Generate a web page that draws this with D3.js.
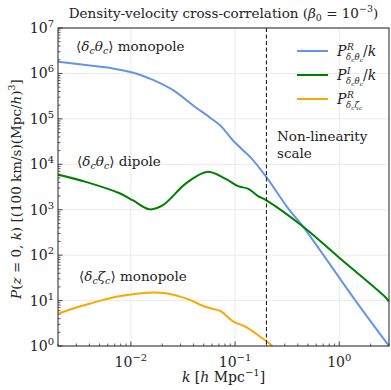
<!DOCTYPE html>
<html>
<head>
<meta charset="utf-8">
<script src="https://cdn.jsdelivr.net/npm/d3@7"></script>
<style>
  body { margin: 0; background: #fff; }
</style>
</head>
<body>
<div id="chart"></div>
<script>
// ---------------------------------------------------------------------------
// Data

const kMono = [0.0019, 0.0037, 0.0067, 0.0112, 0.0163, 0.0254, 0.0394, 0.0591, 0.0738, 0.092, 0.115, 0.1436, 0.2, 0.323, 0.451, 1.43, 3.0];
const pMono = [1.84e6, 1.53e6, 1.29e6, 1.0e6, 7.2e5, 4.3e5, 2.0e5, 1.02e5, 6.8e4, 3.7e4, 2.2e4, 1.35e4, 5.2e3, 1.07e3, 4.2e2, 10, 1.0];

const kDip = [0.0019, 0.0037, 0.0078, 0.0105, 0.0151, 0.0203, 0.0338, 0.0538, 0.0796, 0.107, 0.133, 0.166, 0.2, 0.451, 0.98, 2.76, 3.0];
const pDip = [6.1e3, 4.1e3, 2.3e3, 1.6e3, 1.02e3, 1.26e3, 3.8e3, 6.8e3, 4.9e3, 3.3e3, 2.9e3, 2.0e3, 1.6e3, 4.2e2, 91, 12, 9.5];

const kZeta = [0.0019, 0.0028, 0.0043, 0.0067, 0.0104, 0.0163, 0.0217, 0.0338, 0.0526, 0.0718, 0.0957, 0.128, 0.174, 0.222, 0.24];
const pZeta = [4.9, 6.7, 8.9, 11.7, 13.8, 15.1, 14.5, 11.2, 7.2, 5.9, 3.5, 2.6, 1.6, 1.05, 0.8];

const kNonLinear = 0.2;
const xDomain = [0.002, 3];
const yDomain = [1, 1e7];
const xTickExp = [-2, -1, 0];
const yTickExp = [0, 1, 2, 3, 4, 5, 6, 7];

// ---------------------------------------------------------------------------
// Layout

const width = 391, height = 390;
const margin = {top: 28, right: 2, bottom: 44, left: 58};
const innerW = width - margin.left - margin.right;
const innerH = height - margin.top - margin.bottom;
const FONT = "'DejaVu Serif', 'Liberation Serif', serif";

const svg = d3.select('#chart').append('svg')
  .attr('width', width)
  .attr('height', height)
  .attr('font-family', FONT)
  .style('font-family', FONT);

const x = d3.scaleLog().domain(xDomain).range([0, innerW]);
const y = d3.scaleLog().domain(yDomain).range([innerH, 0]);

const g = svg.append('g')
  .attr('transform', `translate(${margin.left},${margin.top})`);

g.append('clipPath').attr('id', 'clip')
  .append('rect').attr('width', innerW).attr('height', innerH);

// grid
g.append('g').selectAll('line')
  .data(xTickExp.map(e => Math.pow(10, e)))
  .join('line')
  .attr('x1', d => x(d)).attr('x2', d => x(d))
  .attr('y1', 0).attr('y2', innerH)
  .attr('stroke', '#ebebeb').attr('stroke-width', 1);

g.append('g').selectAll('line')
  .data(yTickExp.map(e => Math.pow(10, e)))
  .join('line')
  .attr('y1', d => y(d)).attr('y2', d => y(d))
  .attr('x1', 0).attr('x2', innerW)
  .attr('stroke', '#ebebeb').attr('stroke-width', 1);

// minor + major ticks (pointing in)
const xMinor = [];
for (let e = -3; e <= 0; e++) {
  for (let m = 2; m <= 9; m++) {
    const v = m * Math.pow(10, e);
    if (v >= xDomain[0] && v <= xDomain[1]) xMinor.push(v);
  }
}
const yMinor = [];
for (let e = 0; e < 7; e++) {
  for (let m = 2; m <= 9; m++) yMinor.push(m * Math.pow(10, e));
}

g.append('g').selectAll('line')
  .data(xMinor).join('line')
  .attr('x1', d => x(d)).attr('x2', d => x(d))
  .attr('y1', innerH).attr('y2', innerH - 2.5)
  .attr('stroke', '#333').attr('stroke-width', 0.8);
g.append('g').selectAll('line')
  .data(xTickExp.map(e => Math.pow(10, e))).join('line')
  .attr('x1', d => x(d)).attr('x2', d => x(d))
  .attr('y1', innerH).attr('y2', innerH - 4.5)
  .attr('stroke', '#333').attr('stroke-width', 0.9);

g.append('g').selectAll('line')
  .data(yMinor).join('line')
  .attr('y1', d => y(d)).attr('y2', d => y(d))
  .attr('x1', 0).attr('x2', 2.5)
  .attr('stroke', '#333').attr('stroke-width', 0.8);
g.append('g').selectAll('line')
  .data(yTickExp.map(e => Math.pow(10, e))).join('line')
  .attr('y1', d => y(d)).attr('y2', d => y(d))
  .attr('x1', 0).attr('x2', 4.5)
  .attr('stroke', '#333').attr('stroke-width', 0.9);

// tick labels
function powLabel(sel, exp, xx, yy, anchor) {
  const t = sel.append('text')
    .attr('x', xx).attr('y', yy)
    .attr('text-anchor', anchor)
    .attr('fill', '#222')
    .style('font-size', '14px');
  t.append('tspan').text('10');
  t.append('tspan')
    .attr('dy', -6)
    .style('font-size', '10px')
    .text(exp < 0 ? '\u2212' + (-exp) : String(exp));
  return t;
}

xTickExp.forEach(e => powLabel(g, e, x(Math.pow(10, e)), innerH + 21, 'middle'));
yTickExp.forEach(e => powLabel(g, e, -4, y(Math.pow(10, e)) + 5, 'end'));

// curves
const line = d3.line()
  .x(d => x(d[0]))
  .y(d => y(d[1]))
  .curve(d3.curveCatmullRom.alpha(0.5));

const plot = g.append('g').attr('clip-path', 'url(#clip)');

const series = [
  {k: kMono, p: pMono, color: '#6495ED'},
  {k: kDip, p: pDip, color: '#008000'},
  {k: kZeta, p: pZeta, color: '#FFA500'}
];

series.forEach(s => {
  plot.append('path')
    .datum(d3.zip(s.k, s.p))
    .attr('d', line)
    .attr('fill', 'none')
    .attr('stroke', s.color)
    .attr('stroke-width', 2);
});

// non-linearity scale
plot.append('line')
  .attr('x1', x(kNonLinear)).attr('x2', x(kNonLinear))
  .attr('y1', 0).attr('y2', innerH)
  .attr('stroke', '#222').attr('stroke-width', 1.1)
  .attr('stroke-dasharray', '4,2.5');

// frame
g.append('rect')
  .attr('width', innerW).attr('height', innerH)
  .attr('fill', 'none').attr('stroke', '#222').attr('stroke-width', 1);

// ---------------------------------------------------------------------------
// Text

function txt(sel, xx, yy, size) {
  return sel.append('text').attr('x', xx).attr('y', yy)
    .attr('fill', '#222').style('font-size', size + 'px');
}

// title
const title = txt(svg, margin.left + innerW / 2, 18, 13.5).attr('text-anchor', 'middle');
title.append('tspan').text('Density-velocity cross-correlation (');
title.append('tspan').style('font-style', 'italic').text('\u03b2');
title.append('tspan').attr('dy', 3).style('font-size', '9.5px').text('0');
title.append('tspan').attr('dy', -3).text(' = 10');
title.append('tspan').attr('dy', -6).style('font-size', '9.5px').text('\u22123');
title.append('tspan').attr('dy', 6).text(')');

// annotations
function bracket(sel, xx, yy, a, b, word) {
  const t = txt(sel, xx, yy, 13.5);
  t.append('tspan').text('\u27e8');
  t.append('tspan').style('font-style', 'italic').text(a);
  t.append('tspan').attr('dy', 3).style('font-size', '9.5px').style('font-style', 'italic').text('c');
  t.append('tspan').attr('dy', -3).style('font-style', 'italic').text(b);
  t.append('tspan').attr('dy', 3).style('font-size', '9.5px').style('font-style', 'italic').text('c');
  t.append('tspan').attr('dy', -3).text('\u27e9 ' + word);
}
bracket(svg, 76, 51, '\u03b4', '\u03b8', 'monopole');
bracket(svg, 77, 166, '\u03b4', '\u03b8', 'dipole');
bracket(svg, 79, 281, '\u03b4', '\u03b6', 'monopole');

txt(svg, 277, 141, 13.5).text('Non-linearity');
txt(svg, 277, 158, 13.5).text('scale');

// legend
const legendLabels = [
  {sup: 'R', sub: ['\u03b4', '\u03b8'], tail: '/k'},
  {sup: 'I', sub: ['\u03b4', '\u03b8'], tail: '/k'},
  {sup: 'R', sub: ['\u03b4', '\u03b6'], tail: ''}
];
const legend = svg.append('g').attr('transform', 'translate(297,51)');
legendLabels.forEach((d, i) => {
  const row = legend.append('g').attr('transform', `translate(0,${i * 24})`);
  row.append('line').attr('x1', 0).attr('x2', 31)
    .attr('stroke', series[i].color).attr('stroke-width', 2);
  txt(row, 40, 5, 14).style('font-style', 'italic').text('P');
  txt(row, 50, -1, 9).style('font-style', 'italic').text(d.sup);
  const sub = txt(row, 49, 9, 8.5).style('font-style', 'italic');
  sub.append('tspan').text(d.sub[0]);
  sub.append('tspan').attr('dy', 2).style('font-size', '6px').text('c');
  sub.append('tspan').attr('dy', -2).text(d.sub[1]);
  sub.append('tspan').attr('dy', 2).style('font-size', '6px').text('c');
  if (d.tail) {
    const tl = txt(row, 66, 5, 14);
    tl.append('tspan').text('/');
    tl.append('tspan').style('font-style', 'italic').text('k');
  }
});

// axis labels
const xl = txt(svg, margin.left + innerW / 2, 382, 14).attr('text-anchor', 'middle');
xl.append('tspan').style('font-style', 'italic').text('k');
xl.append('tspan').text(' [');
xl.append('tspan').style('font-style', 'italic').text('h');
xl.append('tspan').text(' Mpc');
xl.append('tspan').attr('dy', -6).style('font-size', '10px').text('\u22121');
xl.append('tspan').attr('dy', 6).text(']');

const yl = svg.append('text')
  .attr('transform', `translate(21,${margin.top + innerH / 2 + 2}) rotate(-90)`)
  .attr('text-anchor', 'middle')
  .attr('fill', '#222')
  .style('font-size', '13.5px');
yl.append('tspan').style('font-style', 'italic').text('P');
yl.append('tspan').text('(');
yl.append('tspan').style('font-style', 'italic').text('z');
yl.append('tspan').text(' = 0, ');
yl.append('tspan').style('font-style', 'italic').text('k');
yl.append('tspan').text(') [(100 km/s)(Mpc/');
yl.append('tspan').style('font-style', 'italic').text('h');
yl.append('tspan').text(')');
yl.append('tspan').attr('dy', -6).style('font-size', '9.5px').text('3');
yl.append('tspan').attr('dy', 6).text(']');
</script>
</body>
</html>
